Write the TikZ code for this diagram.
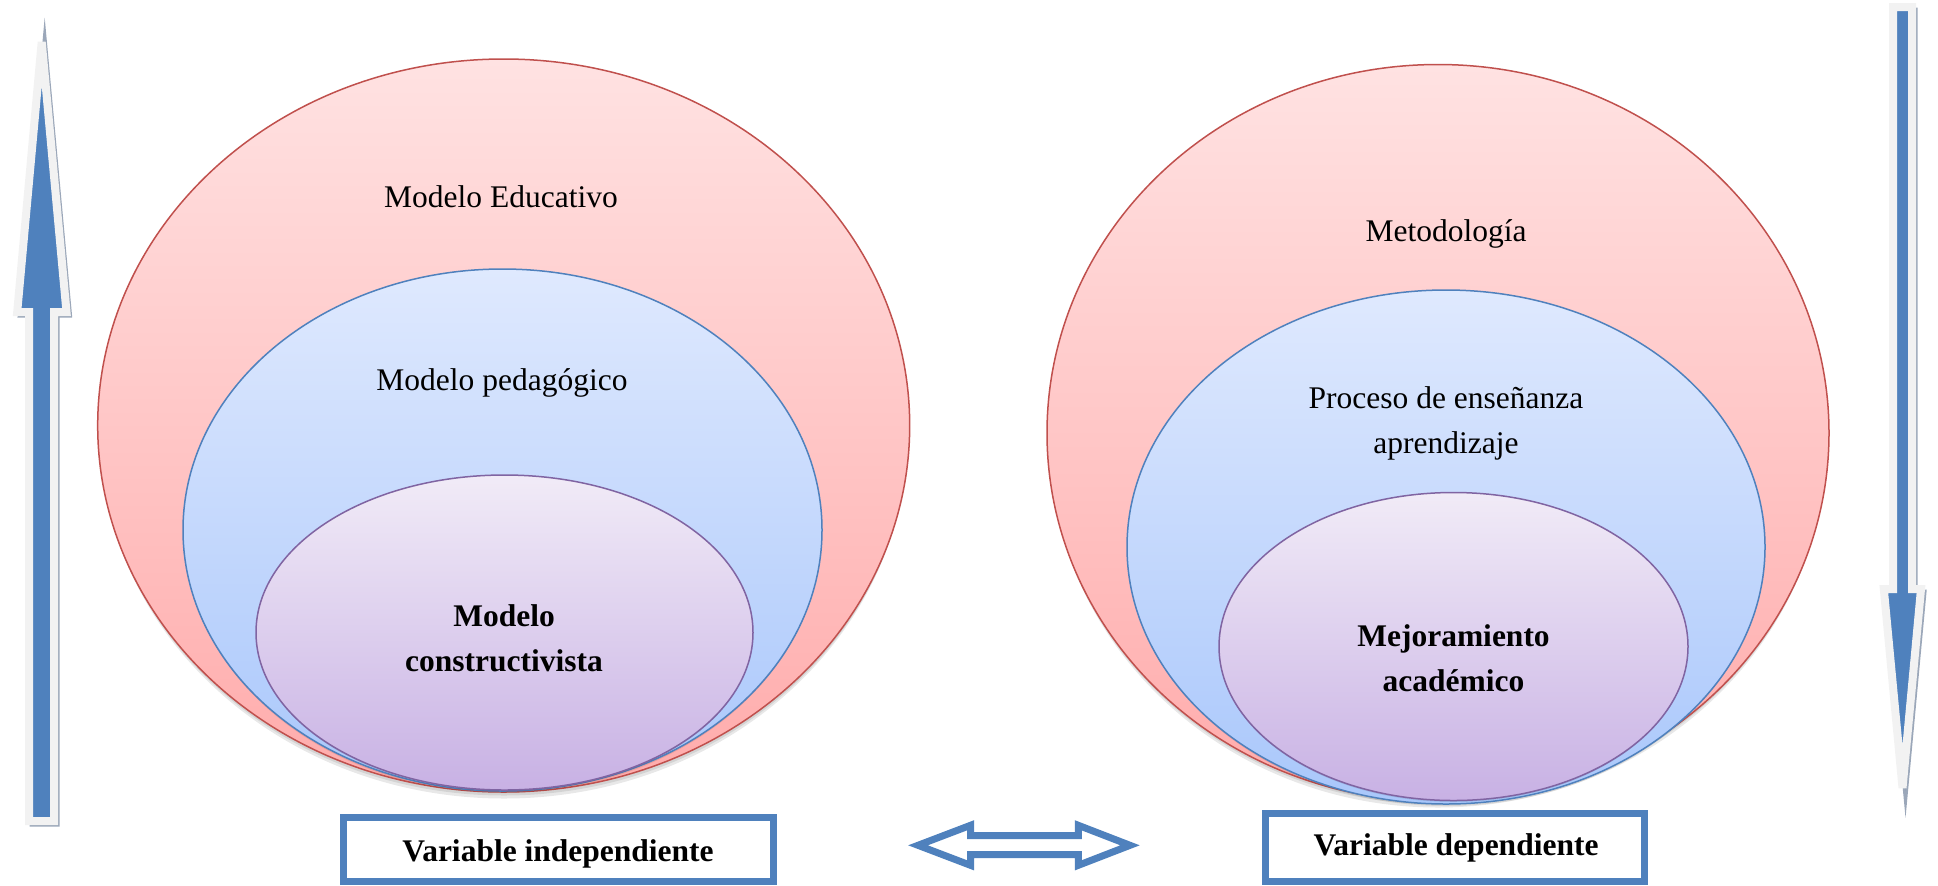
\documentclass[tikz,border=0pt]{standalone}
\usepackage{fontspec}
\setmainfont{Liberation Serif}
\definecolor{pinkT}{HTML}{FFE2E2}
\definecolor{pinkB}{HTML}{FFABAB}
\definecolor{redL}{HTML}{C0504D}
\definecolor{blueT}{HTML}{DFE9FE}
\definecolor{blueB}{HTML}{A9C7FB}
\definecolor{blueL}{HTML}{4F81BD}
\definecolor{purT}{HTML}{F1EBF7}
\definecolor{purB}{HTML}{C8B1E4}
\definecolor{purL}{HTML}{8064A2}
\definecolor{arrW}{HTML}{F2F2F2}
\definecolor{arrS}{HTML}{8A98AD}
\begin{document}
\begin{tikzpicture}[x=0.5pt,y=-0.5pt,
  lbl/.style={font=\fontsize{15.75pt}{22.5pt}\selectfont, align=center, inner sep=0pt, anchor=base},
  blbl/.style={font=\fontsize{15.75pt}{22.5pt}\selectfont\bfseries, align=center, inner sep=0pt, anchor=base},
  outerell/.style={top color=pinkT, bottom color=pinkB, draw=redL, line width=.75pt},
  midell/.style={top color=blueT, bottom color=blueB, draw=blueL, line width=.75pt},
  innerell/.style={top color=purT, bottom color=purB, draw=purL, line width=.75pt},
  ellshadow/.style={fill=black, opacity=.09},
  vbox/.style={draw=blueL, fill=white, line width=3.5pt, inner sep=0pt},
  bigarrow/.style={fill=blueL, draw=arrW, line width=4pt, line join=miter},
  arrshadow/.style={fill=arrS, draw=arrS, line width=2.5pt, line join=miter, miter limit=25, opacity=.85},
  dblarrow/.style={fill=white, draw=blueL, line width=3.5pt, line join=miter}
]
\useasboundingbox (0,0) rectangle (1938,885);

% ---------- left stack ----------
\fill[ellshadow] (504,432) ellipse (404 and 366.5);
\fill[ellshadow] (504,429) ellipse (405 and 366.5);
\shadedraw[outerell] (503.7,425.5) ellipse (406 and 366.5);
\fill[ellshadow] (502.5,532) ellipse (319 and 261);
\shadedraw[midell] (502.5,530) ellipse (319.5 and 261);
\fill[ellshadow] (504.5,634) ellipse (248 and 157.5);
\shadedraw[innerell] (504.5,632.5) ellipse (248.5 and 157.5);

% ---------- right stack ----------
\fill[ellshadow] (1438,439) ellipse (389 and 368.5);
\fill[ellshadow] (1438,436) ellipse (390 and 368.5);
\shadedraw[outerell] (1438,433) ellipse (391 and 368.5);
\fill[ellshadow] (1446,549) ellipse (318 and 257);
\shadedraw[midell] (1446,547) ellipse (319 and 257);
\fill[ellshadow] (1453.5,648) ellipse (234 and 154);
\shadedraw[innerell] (1453.5,646.5) ellipse (234.5 and 154);

% ---------- texts (base = last line baseline) ----------
\node[lbl] (me) at (501,207) {Modelo Educativo};
\node[lbl] (mp) at (502,390) {Modelo pedagógico};
\node[blbl] (mc) at (504,671.5) {Modelo\\constructivista};
\node[lbl] (met) at (1446,241.5) {Metodología};
\node[lbl] (pea) at (1446,453) {Proceso de enseñanza\\aprendizaje};
\node[blbl] (mej) at (1453.5,691) {Mejoramiento\\académico};

% ---------- variable boxes ----------
\node[vbox, minimum width=215pt, minimum height=32pt] (lbox) at (558.5,849.5) {};
\node[blbl] (vi) at (558,861) {Variable independiente};
\node[vbox, minimum width=189.5pt, minimum height=34pt] (rbox) at (1455,847.5) {};
\node[blbl] (vd) at (1456,855.5) {Variable dependiente};

% ---------- double arrow ----------
\draw[dblarrow] (918,845.3) -- (970.5,825.3) -- (970.5,835.7) -- (1078.3,835.7)
  -- (1078.3,825.3) -- (1130,845.3) -- (1078.3,865.3) -- (1078.3,854.7)
  -- (970.5,854.7) -- (970.5,865.3) -- cycle;

% ---------- left up arrow ----------
\begin{scope}[shift={(3,3)}]
\filldraw[arrshadow] (29,821) -- (29,312) -- (17.2,312) -- (41.7,42) -- (66.5,312) -- (54.2,312) -- (54.2,821) -- cycle;
\end{scope}
\filldraw[bigarrow] (29,821) -- (29,312) -- (17.2,312) -- (41.7,42) -- (66.5,312) -- (54.2,312) -- (54.2,821) -- cycle;

% ---------- right down arrow ----------
\begin{scope}[shift={(3,3)}]
\filldraw[arrshadow] (1893,7) -- (1912,7) -- (1912,589) -- (1921,589) -- (1902.5,788) -- (1883.8,589) -- (1893,589) -- cycle;
\end{scope}
\filldraw[bigarrow] (1893,7) -- (1912,7) -- (1912,589) -- (1921,589) -- (1902.5,788) -- (1883.8,589) -- (1893,589) -- cycle;
\end{tikzpicture}
\end{document}
